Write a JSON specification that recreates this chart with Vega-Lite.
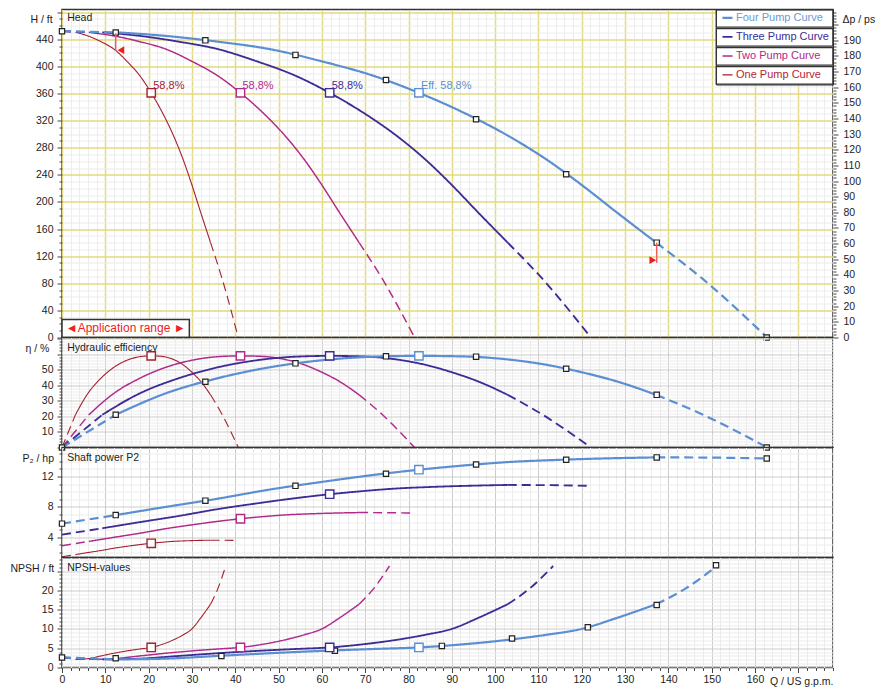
{
"$schema": "https://vega.github.io/schema/vega-lite/v6.json",
"background": "white",
"padding": {"left": 9, "top": 5.5, "right": 0, "bottom": 2},
"spacing": 0,
"bounds": "flush",
"config": {
  "view": {"stroke": "#333333", "strokeWidth": 1.5},
  "font": "Liberation Sans",
  "axis": {"labelFont": "Liberation Sans", "titleFont": "Liberation Sans", "labelFontSize": 10.5, "titleFontSize": 10.5, "titleFontWeight": "normal", "labelColor": "#222222", "titleColor": "#222222", "tickColor": "#444444", "labelFlush": false, "labelOverlap": false, "domain": false},
  "text": {"font": "Liberation Sans"}
},
"datasets": {
"H": [
{"p":"One","s":"a","Q":0,"v":452},{"p":"One","s":"a","Q":3.1,"v":450.3},
{"p":"One","s":"b","Q":3.1,"v":450.3},{"p":"One","s":"b","Q":6,"v":445},{"p":"One","s":"b","Q":9,"v":436.5},{"p":"One","s":"b","Q":12,"v":425.5},{"p":"One","s":"b","Q":15,"v":407.5},{"p":"One","s":"b","Q":18,"v":386},{"p":"One","s":"b","Q":20.6,"v":361},{"p":"One","s":"b","Q":23,"v":334},{"p":"One","s":"b","Q":26,"v":294},{"p":"One","s":"b","Q":28,"v":262},{"p":"One","s":"b","Q":30,"v":225},{"p":"One","s":"b","Q":32,"v":185},{"p":"One","s":"b","Q":34.3,"v":140},
{"p":"One","s":"c","Q":34.3,"v":140},{"p":"One","s":"c","Q":37,"v":86},{"p":"One","s":"c","Q":40.7,"v":0},
{"p":"Two","s":"a","Q":0,"v":452},{"p":"Two","s":"a","Q":6.2,"v":450.3},
{"p":"Two","s":"b","Q":6.2,"v":450.3},{"p":"Two","s":"b","Q":12,"v":445},{"p":"Two","s":"b","Q":18,"v":436.5},{"p":"Two","s":"b","Q":24,"v":425.5},{"p":"Two","s":"b","Q":30,"v":407.5},{"p":"Two","s":"b","Q":36,"v":386},{"p":"Two","s":"b","Q":41.2,"v":361},{"p":"Two","s":"b","Q":46,"v":334},{"p":"Two","s":"b","Q":52,"v":294},{"p":"Two","s":"b","Q":56,"v":262},{"p":"Two","s":"b","Q":60,"v":225},{"p":"Two","s":"b","Q":64,"v":185},{"p":"Two","s":"b","Q":68.6,"v":140},
{"p":"Two","s":"c","Q":68.6,"v":140},{"p":"Two","s":"c","Q":74,"v":86},{"p":"Two","s":"c","Q":81.4,"v":0},
{"p":"Three","s":"a","Q":0,"v":452},{"p":"Three","s":"a","Q":9.3,"v":450.3},
{"p":"Three","s":"b","Q":9.3,"v":450.3},{"p":"Three","s":"b","Q":18,"v":445},{"p":"Three","s":"b","Q":27,"v":436.5},{"p":"Three","s":"b","Q":36,"v":425.5},{"p":"Three","s":"b","Q":45,"v":407.5},{"p":"Three","s":"b","Q":54,"v":386},{"p":"Three","s":"b","Q":61.8,"v":361},{"p":"Three","s":"b","Q":69,"v":334},{"p":"Three","s":"b","Q":78,"v":294},{"p":"Three","s":"b","Q":84,"v":262},{"p":"Three","s":"b","Q":90,"v":225},{"p":"Three","s":"b","Q":96,"v":185},{"p":"Three","s":"b","Q":102.9,"v":140},
{"p":"Three","s":"c","Q":102.9,"v":140},{"p":"Three","s":"c","Q":111,"v":86},{"p":"Three","s":"c","Q":122.1,"v":0},
{"p":"Four","s":"a","Q":0,"v":452},{"p":"Four","s":"a","Q":12.4,"v":450.3},
{"p":"Four","s":"b","Q":12.4,"v":450.3},{"p":"Four","s":"b","Q":24,"v":445},{"p":"Four","s":"b","Q":36,"v":436.5},{"p":"Four","s":"b","Q":48,"v":425.5},{"p":"Four","s":"b","Q":60,"v":407.5},{"p":"Four","s":"b","Q":72,"v":386},{"p":"Four","s":"b","Q":82.4,"v":361},{"p":"Four","s":"b","Q":92,"v":334},{"p":"Four","s":"b","Q":104,"v":294},{"p":"Four","s":"b","Q":112,"v":262},{"p":"Four","s":"b","Q":120,"v":225},{"p":"Four","s":"b","Q":128,"v":185},{"p":"Four","s":"b","Q":137.2,"v":140},
{"p":"Four","s":"c","Q":137.2,"v":140},{"p":"Four","s":"c","Q":148,"v":86},{"p":"Four","s":"c","Q":162.8,"v":0}
],
"E": [
{"p":"One","s":"a","Q":0,"v":0},{"p":"One","s":"a","Q":3.1,"v":21},
{"p":"One","s":"b","Q":3.1,"v":21},{"p":"One","s":"b","Q":6,"v":34.8},{"p":"One","s":"b","Q":9,"v":44.5},{"p":"One","s":"b","Q":12,"v":51.5},{"p":"One","s":"b","Q":15,"v":56},{"p":"One","s":"b","Q":18,"v":58.3},{"p":"One","s":"b","Q":20.6,"v":58.8},{"p":"One","s":"b","Q":23,"v":58.5},{"p":"One","s":"b","Q":26,"v":56.2},{"p":"One","s":"b","Q":28,"v":53},{"p":"One","s":"b","Q":30,"v":48.3},{"p":"One","s":"b","Q":32,"v":42.5},{"p":"One","s":"b","Q":34.3,"v":33.8},
{"p":"One","s":"c","Q":34.3,"v":33.8},{"p":"One","s":"c","Q":37,"v":21},{"p":"One","s":"c","Q":40.7,"v":0},
{"p":"Two","s":"a","Q":0,"v":0},{"p":"Two","s":"a","Q":6.2,"v":21},
{"p":"Two","s":"b","Q":6.2,"v":21},{"p":"Two","s":"b","Q":12,"v":34.8},{"p":"Two","s":"b","Q":18,"v":44.5},{"p":"Two","s":"b","Q":24,"v":51.5},{"p":"Two","s":"b","Q":30,"v":56},{"p":"Two","s":"b","Q":36,"v":58.3},{"p":"Two","s":"b","Q":41.2,"v":58.8},{"p":"Two","s":"b","Q":46,"v":58.5},{"p":"Two","s":"b","Q":52,"v":56.2},{"p":"Two","s":"b","Q":56,"v":53},{"p":"Two","s":"b","Q":60,"v":48.3},{"p":"Two","s":"b","Q":64,"v":42.5},{"p":"Two","s":"b","Q":68.6,"v":33.8},
{"p":"Two","s":"c","Q":68.6,"v":33.8},{"p":"Two","s":"c","Q":74,"v":21},{"p":"Two","s":"c","Q":81.4,"v":0},
{"p":"Three","s":"a","Q":0,"v":0},{"p":"Three","s":"a","Q":9.3,"v":21},
{"p":"Three","s":"b","Q":9.3,"v":21},{"p":"Three","s":"b","Q":18,"v":34.8},{"p":"Three","s":"b","Q":27,"v":44.5},{"p":"Three","s":"b","Q":36,"v":51.5},{"p":"Three","s":"b","Q":45,"v":56},{"p":"Three","s":"b","Q":54,"v":58.3},{"p":"Three","s":"b","Q":61.8,"v":58.8},{"p":"Three","s":"b","Q":69,"v":58.5},{"p":"Three","s":"b","Q":78,"v":56.2},{"p":"Three","s":"b","Q":84,"v":53},{"p":"Three","s":"b","Q":90,"v":48.3},{"p":"Three","s":"b","Q":96,"v":42.5},{"p":"Three","s":"b","Q":102.9,"v":33.8},
{"p":"Three","s":"c","Q":102.9,"v":33.8},{"p":"Three","s":"c","Q":111,"v":21},{"p":"Three","s":"c","Q":122.1,"v":0},
{"p":"Four","s":"a","Q":0,"v":0},{"p":"Four","s":"a","Q":12.4,"v":21},
{"p":"Four","s":"b","Q":12.4,"v":21},{"p":"Four","s":"b","Q":24,"v":34.8},{"p":"Four","s":"b","Q":36,"v":44.5},{"p":"Four","s":"b","Q":48,"v":51.5},{"p":"Four","s":"b","Q":60,"v":56},{"p":"Four","s":"b","Q":72,"v":58.3},{"p":"Four","s":"b","Q":82.4,"v":58.8},{"p":"Four","s":"b","Q":92,"v":58.5},{"p":"Four","s":"b","Q":104,"v":56.2},{"p":"Four","s":"b","Q":112,"v":53},{"p":"Four","s":"b","Q":120,"v":48.3},{"p":"Four","s":"b","Q":128,"v":42.5},{"p":"Four","s":"b","Q":137.2,"v":33.8},
{"p":"Four","s":"c","Q":137.2,"v":33.8},{"p":"Four","s":"c","Q":148,"v":21},{"p":"Four","s":"c","Q":162.8,"v":0}
],
"P": [
{"p":"One","s":"a","Q":0,"v":1.45},{"p":"One","s":"a","Q":3.1,"v":1.73},
{"p":"One","s":"b","Q":3.1,"v":1.73},{"p":"One","s":"b","Q":6,"v":2.0},{"p":"One","s":"b","Q":9,"v":2.27},{"p":"One","s":"b","Q":12,"v":2.57},{"p":"One","s":"b","Q":15,"v":2.82},{"p":"One","s":"b","Q":18,"v":3.05},{"p":"One","s":"b","Q":20.6,"v":3.22},{"p":"One","s":"b","Q":23,"v":3.35},{"p":"One","s":"b","Q":26,"v":3.48},{"p":"One","s":"b","Q":28,"v":3.53},{"p":"One","s":"b","Q":30,"v":3.57},{"p":"One","s":"b","Q":32,"v":3.6},{"p":"One","s":"b","Q":34.3,"v":3.625},
{"p":"One","s":"c","Q":34.3,"v":3.625},{"p":"One","s":"c","Q":37,"v":3.62},{"p":"One","s":"c","Q":40.7,"v":3.59},
{"p":"Two","s":"a","Q":0,"v":2.9},{"p":"Two","s":"a","Q":6.2,"v":3.46},
{"p":"Two","s":"b","Q":6.2,"v":3.46},{"p":"Two","s":"b","Q":12,"v":4.0},{"p":"Two","s":"b","Q":18,"v":4.54},{"p":"Two","s":"b","Q":24,"v":5.14},{"p":"Two","s":"b","Q":30,"v":5.64},{"p":"Two","s":"b","Q":36,"v":6.1},{"p":"Two","s":"b","Q":41.2,"v":6.44},{"p":"Two","s":"b","Q":46,"v":6.7},{"p":"Two","s":"b","Q":52,"v":6.96},{"p":"Two","s":"b","Q":56,"v":7.06},{"p":"Two","s":"b","Q":60,"v":7.14},{"p":"Two","s":"b","Q":64,"v":7.2},{"p":"Two","s":"b","Q":68.6,"v":7.25},
{"p":"Two","s":"c","Q":68.6,"v":7.25},{"p":"Two","s":"c","Q":74,"v":7.24},{"p":"Two","s":"c","Q":81.4,"v":7.18},
{"p":"Three","s":"a","Q":0,"v":4.35},{"p":"Three","s":"a","Q":9.3,"v":5.19},
{"p":"Three","s":"b","Q":9.3,"v":5.19},{"p":"Three","s":"b","Q":18,"v":6.0},{"p":"Three","s":"b","Q":27,"v":6.81},{"p":"Three","s":"b","Q":36,"v":7.71},{"p":"Three","s":"b","Q":45,"v":8.46},{"p":"Three","s":"b","Q":54,"v":9.15},{"p":"Three","s":"b","Q":61.8,"v":9.66},{"p":"Three","s":"b","Q":69,"v":10.05},{"p":"Three","s":"b","Q":78,"v":10.44},{"p":"Three","s":"b","Q":84,"v":10.59},{"p":"Three","s":"b","Q":90,"v":10.71},{"p":"Three","s":"b","Q":96,"v":10.8},{"p":"Three","s":"b","Q":102.9,"v":10.88},
{"p":"Three","s":"c","Q":102.9,"v":10.88},{"p":"Three","s":"c","Q":111,"v":10.86},{"p":"Three","s":"c","Q":122.1,"v":10.77},
{"p":"Four","s":"a","Q":0,"v":5.8},{"p":"Four","s":"a","Q":12.4,"v":6.92},
{"p":"Four","s":"b","Q":12.4,"v":6.92},{"p":"Four","s":"b","Q":24,"v":8.0},{"p":"Four","s":"b","Q":36,"v":9.08},{"p":"Four","s":"b","Q":48,"v":10.28},{"p":"Four","s":"b","Q":60,"v":11.28},{"p":"Four","s":"b","Q":72,"v":12.2},{"p":"Four","s":"b","Q":82.4,"v":12.88},{"p":"Four","s":"b","Q":92,"v":13.4},{"p":"Four","s":"b","Q":104,"v":13.92},{"p":"Four","s":"b","Q":112,"v":14.12},{"p":"Four","s":"b","Q":120,"v":14.28},{"p":"Four","s":"b","Q":128,"v":14.4},{"p":"Four","s":"b","Q":137.2,"v":14.5},
{"p":"Four","s":"c","Q":137.2,"v":14.5},{"p":"Four","s":"c","Q":148,"v":14.48},{"p":"Four","s":"c","Q":162.8,"v":14.36}
],
"N": [
{"p":"One","s":"a","Q":0,"v":2.6},{"p":"One","s":"a","Q":3.1,"v":2.1},
{"p":"One","s":"b","Q":3.1,"v":2.1},{"p":"One","s":"b","Q":6,"v":2.3},{"p":"One","s":"b","Q":9,"v":3.0},{"p":"One","s":"b","Q":12,"v":3.7},{"p":"One","s":"b","Q":15,"v":4.3},{"p":"One","s":"b","Q":18,"v":4.8},{"p":"One","s":"b","Q":20.6,"v":5.2},{"p":"One","s":"b","Q":23,"v":5.95},{"p":"One","s":"b","Q":26,"v":7.3},{"p":"One","s":"b","Q":28,"v":8.5},{"p":"One","s":"b","Q":30,"v":10},{"p":"One","s":"b","Q":32,"v":12.8},{"p":"One","s":"b","Q":34.3,"v":16.4},
{"p":"One","s":"c","Q":34.3,"v":16.4},{"p":"One","s":"c","Q":36,"v":20.5},{"p":"One","s":"c","Q":37.8,"v":26.3},
{"p":"Two","s":"a","Q":0,"v":2.6},{"p":"Two","s":"a","Q":6.2,"v":2.1},
{"p":"Two","s":"b","Q":6.2,"v":2.1},{"p":"Two","s":"b","Q":12,"v":2.3},{"p":"Two","s":"b","Q":18,"v":3.0},{"p":"Two","s":"b","Q":24,"v":3.7},{"p":"Two","s":"b","Q":30,"v":4.3},{"p":"Two","s":"b","Q":36,"v":4.8},{"p":"Two","s":"b","Q":41.2,"v":5.2},{"p":"Two","s":"b","Q":46,"v":5.95},{"p":"Two","s":"b","Q":52,"v":7.3},{"p":"Two","s":"b","Q":56,"v":8.5},{"p":"Two","s":"b","Q":60,"v":10},{"p":"Two","s":"b","Q":64,"v":12.8},{"p":"Two","s":"b","Q":68.6,"v":16.4},
{"p":"Two","s":"c","Q":68.6,"v":16.4},{"p":"Two","s":"c","Q":72,"v":20.5},{"p":"Two","s":"c","Q":75.6,"v":26.3},
{"p":"Three","s":"a","Q":0,"v":2.6},{"p":"Three","s":"a","Q":9.3,"v":2.1},
{"p":"Three","s":"b","Q":9.3,"v":2.1},{"p":"Three","s":"b","Q":18,"v":2.3},{"p":"Three","s":"b","Q":27,"v":3.0},{"p":"Three","s":"b","Q":36,"v":3.7},{"p":"Three","s":"b","Q":45,"v":4.3},{"p":"Three","s":"b","Q":54,"v":4.8},{"p":"Three","s":"b","Q":61.8,"v":5.2},{"p":"Three","s":"b","Q":69,"v":5.95},{"p":"Three","s":"b","Q":78,"v":7.3},{"p":"Three","s":"b","Q":84,"v":8.5},{"p":"Three","s":"b","Q":90,"v":10},{"p":"Three","s":"b","Q":96,"v":12.8},{"p":"Three","s":"b","Q":102.9,"v":16.4},
{"p":"Three","s":"c","Q":102.9,"v":16.4},{"p":"Three","s":"c","Q":108,"v":20.5},{"p":"Three","s":"c","Q":113.4,"v":26.3},
{"p":"Four","s":"a","Q":0,"v":2.6},{"p":"Four","s":"a","Q":12.4,"v":2.1},
{"p":"Four","s":"b","Q":12.4,"v":2.1},{"p":"Four","s":"b","Q":24,"v":2.3},{"p":"Four","s":"b","Q":36,"v":3.0},{"p":"Four","s":"b","Q":48,"v":3.7},{"p":"Four","s":"b","Q":60,"v":4.3},{"p":"Four","s":"b","Q":72,"v":4.8},{"p":"Four","s":"b","Q":82.4,"v":5.2},{"p":"Four","s":"b","Q":92,"v":5.95},{"p":"Four","s":"b","Q":104,"v":7.3},{"p":"Four","s":"b","Q":112,"v":8.5},{"p":"Four","s":"b","Q":120,"v":10},{"p":"Four","s":"b","Q":128,"v":12.8},{"p":"Four","s":"b","Q":137.2,"v":16.4},
{"p":"Four","s":"c","Q":137.2,"v":16.4},{"p":"Four","s":"c","Q":144,"v":20.5},{"p":"Four","s":"c","Q":151.2,"v":26.3}
],
"pts": [
{"k":"H","Q":0,"v":452},{"k":"H","Q":12.4,"v":450},{"k":"H","Q":33.1,"v":438.5},{"k":"H","Q":53.9,"v":417},{"k":"H","Q":74.8,"v":380},{"k":"H","Q":95.6,"v":322},{"k":"H","Q":116.4,"v":241},{"k":"H","Q":137.3,"v":140},{"k":"H","Q":162.7,"v":0},
{"k":"E","Q":0,"v":0},{"k":"E","Q":12.4,"v":21},{"k":"E","Q":33.1,"v":42.2},{"k":"E","Q":53.9,"v":54},{"k":"E","Q":74.8,"v":58.5},{"k":"E","Q":95.6,"v":58.3},{"k":"E","Q":116.4,"v":50.5},{"k":"E","Q":137.3,"v":33.8},{"k":"E","Q":162.7,"v":0},
{"k":"P","Q":0,"v":5.8},{"k":"P","Q":12.4,"v":6.92},{"k":"P","Q":33.1,"v":8.82},{"k":"P","Q":53.9,"v":10.76},{"k":"P","Q":74.8,"v":12.36},{"k":"P","Q":95.6,"v":13.56},{"k":"P","Q":116.4,"v":14.2},{"k":"P","Q":137.3,"v":14.5},{"k":"P","Q":162.7,"v":14.36},
{"k":"N","Q":0,"v":2.6},{"k":"N","Q":12.4,"v":2.4},{"k":"N","Q":36.8,"v":3.0},{"k":"N","Q":63,"v":4.35},{"k":"N","Q":87.7,"v":5.6},{"k":"N","Q":103.9,"v":7.5},{"k":"N","Q":121.4,"v":10.4},{"k":"N","Q":137.3,"v":16.2},{"k":"N","Q":151,"v":26.5}
],
"bep": [
{"k":"H","p":"One","Q":20.6,"v":361,"t":"58,8%"},{"k":"H","p":"Two","Q":41.2,"v":361,"t":"58,8%"},{"k":"H","p":"Three","Q":61.8,"v":361,"t":"58,8%"},{"k":"H","p":"Four","Q":82.4,"v":361,"t":"Eff.  58,8%"},
{"k":"E","p":"One","Q":20.6,"v":58.8},{"k":"E","p":"Two","Q":41.2,"v":58.8},{"k":"E","p":"Three","Q":61.8,"v":58.8},{"k":"E","p":"Four","Q":82.4,"v":58.8},
{"k":"P","p":"One","Q":20.6,"v":3.22},{"k":"P","p":"Two","Q":41.2,"v":6.44},{"k":"P","p":"Three","Q":61.8,"v":9.66},{"k":"P","p":"Four","Q":82.4,"v":12.88},
{"k":"N","p":"One","Q":20.6,"v":5.2},{"k":"N","p":"Two","Q":41.2,"v":5.2},{"k":"N","p":"Three","Q":61.8,"v":5.2},{"k":"N","p":"Four","Q":82.4,"v":5.2}
],
"app": [
{"t":"r","Q":12.4,"v":449,"v2":423},{"t":"r","Q":137.3,"v":140,"v2":110},
{"t":"L","Q":13.6,"v":424},{"t":"R","Q":136.4,"v":114}
]
},
"vconcat": [
{
 "width": 771, "height": 328,
 "resolve": {"scale": {"y": "independent"}},
 "layer": [
  {
   "layer": [
    {
     "data": {"name": "H"},
     "mark": {"type": "line", "interpolate": "monotone"},
     "encoding": {
      "x": {"field": "Q", "type": "quantitative", "scale": {"domain": [0, 178], "nice": false, "zero": false},
            "axis": {"title": null, "labels": false, "ticks": false, "tickCount": 89, "grid": true,
                     "gridColor": {"condition": {"test": "datum.value % 10 === 0", "value": "#e3da80"}, "value": "#ececec"},
                     "gridWidth": {"condition": {"test": "datum.value % 10 === 0", "value": 1.5}, "value": 1}}},
      "y": {"field": "v", "type": "quantitative", "scale": {"domain": [0, 484], "nice": false, "zero": false},
            "axis": {"title": null,
                     "tickCount": 48, "labelPadding": 4,
                     "labelExpr": "datum.value % 40 === 0 && datum.value < 480 ? datum.label : ''",
                     "tickSize": {"condition": {"test": "datum.value % 40 === 0", "value": 5}, "value": 3},
                     "grid": true,
                     "gridColor": {"condition": {"test": "datum.value % 40 === 0", "value": "#e3da80"}, "value": "#ececec"},
                     "gridWidth": {"condition": {"test": "datum.value % 40 === 0", "value": 1.5}, "value": 1}}},
      "color": {"field": "p", "type": "nominal",
                "scale": {"domain": ["Four", "Three", "Two", "One"], "range": ["#5b8fd1", "#3d2b96", "#b02a8a", "#a3202e"]},
                "legend": {"title": null, "orient": "top-right", "offset": 0, "fillColor": "white", "strokeColor": "#333333",
                           "padding": 0, "symbolType": "stroke", "symbolStrokeWidth": 1.5, "symbolSize": 100, "symbolOffset": 5,
                           "labelFont": "Liberation Sans", "labelFontSize": 11, "labelOffset": 2, "rowPadding": 0, "clipHeight": 16.8,
                           "labelExpr": "datum.label + ' Pump Curve'",
                           "encoding": {
                             "entries": {"width": {"value": 116}, "height": {"value": 16.8}, "stroke": {"value": "#333333"}, "strokeWidth": {"value": 1.3}},
                             "labels": {"fill": {"condition": [
                               {"test": "datum.value === 'Four'", "value": "#6b9bd8"},
                               {"test": "datum.value === 'Three'", "value": "#3d2b96"},
                               {"test": "datum.value === 'Two'", "value": "#b02a8a"}], "value": "#b3262f"}}}}},
      "strokeDash": {"field": "s", "type": "nominal", "scale": {"domain": ["a", "b", "c"], "range": [[9, 5], [1, 0], [9, 5]]}, "legend": null},
      "strokeWidth": {"field": "p", "type": "ordinal", "scale": {"domain": ["Four", "Three", "Two", "One"], "range": [2.2, 1.1, 1.1, 1.1]}, "legend": null}
     }
    },
    {
     "data": {"values": [{}]},
     "mark": {"type": "text", "text": "H / ft", "color": "#222222", "fontSize": 10.5, "align": "right", "baseline": "middle"},
     "encoding": {"x": {"datum": -2.15, "type": "quantitative"}, "y": {"datum": 469, "type": "quantitative"}}
    },
    {
     "data": {"values": [{}]},
     "mark": {"type": "rect", "fill": "white", "stroke": "#333333", "strokeWidth": 1.5},
     "encoding": {"x": {"datum": 0, "type": "quantitative"}, "x2": {"datum": 29.4}, "y": {"datum": 0, "type": "quantitative"}, "y2": {"datum": 26.6}}
    },
    {
     "data": {"values": [{}]},
     "mark": {"type": "text", "text": "◄Application range ►", "color": "#ee2222", "fontSize": 12, "align": "center", "baseline": "middle"},
     "encoding": {"x": {"datum": 14.7, "type": "quantitative"}, "y": {"datum": 13.3, "type": "quantitative"}}
    },
    {
     "data": {"values": [{}]},
     "mark": {"type": "text", "text": "Head", "color": "#222222", "fontSize": 10.5, "align": "left", "baseline": "middle"},
     "encoding": {"x": {"datum": 1.2, "type": "quantitative"}, "y": {"datum": 471, "type": "quantitative"}}
    },
    {
     "data": {"name": "pts"},
     "transform": [{"filter": "datum.k === 'H'"}],
     "mark": {"type": "point", "shape": "square", "filled": true, "fill": "white", "stroke": "#222222", "strokeWidth": 1.2, "size": 28, "opacity": 1},
     "encoding": {"x": {"field": "Q", "type": "quantitative"}, "y": {"field": "v", "type": "quantitative"}}
    },
    {
     "data": {"name": "bep"},
     "transform": [{"filter": "datum.k === 'H'"}],
     "mark": {"type": "point", "shape": "square", "filled": true, "fill": "white", "strokeWidth": 1.4, "size": 70, "opacity": 1},
     "encoding": {"x": {"field": "Q", "type": "quantitative"}, "y": {"field": "v", "type": "quantitative"},
                  "stroke": {"field": "p", "type": "nominal", "scale": {"domain": ["Four", "Three", "Two", "One"], "range": ["#5b8fd1", "#3d2b96", "#b02a8a", "#a3202e"]}, "legend": null}}
    },
    {
     "data": {"name": "bep"},
     "transform": [{"filter": "datum.k === 'H'"}],
     "mark": {"type": "text", "align": "left", "baseline": "alphabetic", "dx": 2, "dy": -4, "fontSize": 11},
     "encoding": {"x": {"field": "Q", "type": "quantitative"}, "y": {"field": "v", "type": "quantitative"}, "text": {"field": "t"},
                  "color": {"field": "p", "type": "nominal", "legend": null}}
    },
    {
     "data": {"name": "app"},
     "transform": [{"filter": "datum.t === 'r'"}],
     "mark": {"type": "rule", "color": "#f06060", "strokeWidth": 1.5},
     "encoding": {"x": {"field": "Q", "type": "quantitative"}, "y": {"field": "v", "type": "quantitative"}, "y2": {"field": "v2"}}
    },
    {
     "data": {"name": "app"},
     "transform": [{"filter": "datum.t !== 'r'"}],
     "mark": {"type": "point", "filled": true, "color": "#ee1c1c", "size": 60, "opacity": 1},
     "encoding": {"x": {"field": "Q", "type": "quantitative"}, "y": {"field": "v", "type": "quantitative"},
                  "shape": {"field": "t", "type": "nominal", "scale": {"domain": ["L", "R"], "range": ["triangle-left", "triangle-right"]}, "legend": null}}
    }
   ]
  },
  {
   "data": {"values": [{"psi": 0}]},
   "mark": {"type": "point", "opacity": 0},
   "encoding": {
    "y": {"field": "psi", "type": "quantitative", "scale": {"domain": [0, 209.6], "nice": false, "zero": false},
          "axis": {"orient": "right", "title": "Δp / psi", "titleAngle": 0, "titleAlign": "left", "titleBaseline": "middle", "titleX": 9, "titleY": 10,
                   "tickCount": 105, "labelPadding": 5, "grid": false,
                   "labelExpr": "datum.value % 10 === 0 && datum.value < 200 ? datum.label : ''",
                   "tickSize": {"condition": {"test": "datum.value % 10 === 0", "value": 5}, "value": 3}}}
   }
  }
 ]
},
{
 "width": 771, "height": 110,
 "layer": [
  {
   "data": {"name": "E"},
   "mark": {"type": "line", "interpolate": "monotone"},
   "encoding": {
    "x": {"field": "Q", "type": "quantitative", "scale": {"domain": [0, 178], "nice": false, "zero": false},
          "axis": {"title": null, "labels": false, "ticks": false, "tickCount": 89, "grid": true,
                   "gridColor": {"condition": {"test": "datum.value % 10 === 0", "value": "#cccccc"}, "value": "#ececec"}}},
    "y": {"field": "v", "type": "quantitative", "scale": {"domain": [0, 70.6], "nice": false, "zero": false},
          "axis": {"title": "η / %", "titleAngle": 0, "titleAlign": "left", "titleBaseline": "middle", "titleX": -37, "titleY": 11,
                   "tickCount": 35, "labelPadding": 4,
                   "labelExpr": "datum.value % 10 === 0 && datum.value > 0 && datum.value < 60 ? datum.label : ''",
                   "tickSize": {"condition": {"test": "datum.value % 10 === 0", "value": 5}, "value": 3},
                   "grid": true,
                   "gridColor": {"condition": {"test": "datum.value % 10 === 0", "value": "#cccccc"}, "value": "#ececec"}}},
    "color": {"field": "p", "type": "nominal", "scale": {"domain": ["Four", "Three", "Two", "One"], "range": ["#5b8fd1", "#3d2b96", "#b02a8a", "#a3202e"]}, "legend": null},
    "strokeDash": {"field": "s", "type": "nominal", "scale": {"domain": ["a", "b", "c"], "range": [[9, 5], [1, 0], [9, 5]]}, "legend": null},
    "strokeWidth": {"field": "p", "type": "ordinal", "scale": {"domain": ["Four", "Three", "Two", "One"], "range": [2.2, 1.1, 1.1, 1.1]}, "legend": null}
   }
  },
  {
   "data": {"values": [{}]},
   "mark": {"type": "text", "text": "Hydraulic efficiency", "color": "#222222", "fontSize": 10.5, "align": "left", "baseline": "middle"},
   "encoding": {"x": {"datum": 1.2, "type": "quantitative"}, "y": {"datum": 63.6, "type": "quantitative"}}
  },
  {
   "data": {"name": "pts"},
   "transform": [{"filter": "datum.k === 'E'"}],
   "mark": {"type": "point", "shape": "square", "filled": true, "fill": "white", "stroke": "#222222", "strokeWidth": 1.2, "size": 28, "opacity": 1},
   "encoding": {"x": {"field": "Q", "type": "quantitative"}, "y": {"field": "v", "type": "quantitative"}}
  },
  {
   "data": {"name": "bep"},
   "transform": [{"filter": "datum.k === 'E'"}],
   "mark": {"type": "point", "shape": "square", "filled": true, "fill": "white", "strokeWidth": 1.4, "size": 70, "opacity": 1},
   "encoding": {"x": {"field": "Q", "type": "quantitative"}, "y": {"field": "v", "type": "quantitative"},
                "stroke": {"field": "p", "type": "nominal", "scale": {"domain": ["Four", "Three", "Two", "One"], "range": ["#5b8fd1", "#3d2b96", "#b02a8a", "#a3202e"]}, "legend": null}}
  }
 ]
},
{
 "width": 771, "height": 110,
 "layer": [
  {
   "data": {"name": "P"},
   "mark": {"type": "line", "interpolate": "monotone"},
   "encoding": {
    "x": {"field": "Q", "type": "quantitative", "scale": {"domain": [0, 178], "nice": false, "zero": false},
          "axis": {"title": null, "labels": false, "ticks": false, "tickCount": 89, "grid": true,
                   "gridColor": {"condition": {"test": "datum.value % 10 === 0", "value": "#cccccc"}, "value": "#ececec"}}},
    "y": {"field": "v", "type": "quantitative", "scale": {"domain": [1.35, 15.8], "nice": false, "zero": false},
          "axis": {"title": "P₂ / hp", "titleAngle": 0, "titleAlign": "left", "titleBaseline": "middle", "titleX": -40, "titleY": 11,
                   "tickCount": 14, "labelPadding": 4,
                   "labelExpr": "datum.value % 4 === 0 && datum.value < 16 ? datum.label : ''",
                   "tickSize": {"condition": {"test": "datum.value % 4 === 0", "value": 5}, "value": 3},
                   "grid": true,
                   "gridColor": {"condition": {"test": "datum.value % 4 === 0", "value": "#cccccc"}, "value": "#ececec"}}},
    "color": {"field": "p", "type": "nominal", "scale": {"domain": ["Four", "Three", "Two", "One"], "range": ["#5b8fd1", "#3d2b96", "#b02a8a", "#a3202e"]}, "legend": null},
    "strokeDash": {"field": "s", "type": "nominal", "scale": {"domain": ["a", "b", "c"], "range": [[9, 5], [1, 0], [9, 5]]}, "legend": null},
    "strokeWidth": {"field": "p", "type": "ordinal", "scale": {"domain": ["Four", "Three", "Two", "One"], "range": [2.2, 1.1, 1.1, 1.1]}, "legend": null}
   }
  },
  {
   "data": {"values": [{}]},
   "mark": {"type": "text", "text": "Shaft power P2", "color": "#222222", "fontSize": 10.5, "align": "left", "baseline": "middle"},
   "encoding": {"x": {"datum": 1.2, "type": "quantitative"}, "y": {"datum": 14.36, "type": "quantitative"}}
  },
  {
   "data": {"name": "pts"},
   "transform": [{"filter": "datum.k === 'P'"}],
   "mark": {"type": "point", "shape": "square", "filled": true, "fill": "white", "stroke": "#222222", "strokeWidth": 1.2, "size": 28, "opacity": 1},
   "encoding": {"x": {"field": "Q", "type": "quantitative"}, "y": {"field": "v", "type": "quantitative"}}
  },
  {
   "data": {"name": "bep"},
   "transform": [{"filter": "datum.k === 'P'"}],
   "mark": {"type": "point", "shape": "square", "filled": true, "fill": "white", "strokeWidth": 1.4, "size": 70, "opacity": 1},
   "encoding": {"x": {"field": "Q", "type": "quantitative"}, "y": {"field": "v", "type": "quantitative"},
                "stroke": {"field": "p", "type": "nominal", "scale": {"domain": ["Four", "Three", "Two", "One"], "range": ["#5b8fd1", "#3d2b96", "#b02a8a", "#a3202e"]}, "legend": null}}
  }
 ]
},
{
 "width": 771, "height": 110,
 "layer": [
  {
   "data": {"name": "N"},
   "mark": {"type": "line", "interpolate": "monotone"},
   "encoding": {
    "x": {"field": "Q", "type": "quantitative", "scale": {"domain": [0, 178], "nice": false, "zero": false},
          "axis": {"title": "Q / US g.p.m.", "titleAngle": 0, "titleAlign": "right", "titleAnchor": "end", "titleBaseline": "middle", "titleX": 771, "titleY": 14,
                   "tickCount": 89, "labelPadding": 2,
                   "labelExpr": "datum.value % 10 === 0 && datum.value <= 160 ? datum.label : ''",
                   "tickSize": {"condition": {"test": "datum.value % 10 === 0", "value": 5}, "value": 3},
                   "grid": true,
                   "gridColor": {"condition": {"test": "datum.value % 10 === 0", "value": "#cccccc"}, "value": "#ececec"}}},
    "y": {"field": "v", "type": "quantitative", "scale": {"domain": [0, 28.5], "nice": false, "zero": false},
          "axis": {"title": "NPSH / ft", "titleAngle": 0, "titleAlign": "left", "titleBaseline": "middle", "titleX": -52, "titleY": 11,
                   "tickCount": 28, "labelPadding": 4,
                   "labelExpr": "datum.value % 5 === 0 && datum.value < 25 ? datum.label : ''",
                   "tickSize": {"condition": {"test": "datum.value % 5 === 0", "value": 5}, "value": 3},
                   "grid": true,
                   "gridColor": {"condition": {"test": "datum.value % 5 === 0", "value": "#cccccc"}, "value": "#ececec"}}},
    "color": {"field": "p", "type": "nominal", "scale": {"domain": ["Four", "Three", "Two", "One"], "range": ["#5b8fd1", "#3d2b96", "#b02a8a", "#a3202e"]}, "legend": null},
    "strokeDash": {"field": "s", "type": "nominal", "scale": {"domain": ["a", "b", "c"], "range": [[9, 5], [1, 0], [9, 5]]}, "legend": null},
    "strokeWidth": {"field": "p", "type": "ordinal", "scale": {"domain": ["Four", "Three", "Two", "One"], "range": [2.2, 1.1, 1.1, 1.1]}, "legend": null}
   }
  },
  {
   "data": {"values": [{}]},
   "mark": {"type": "text", "text": "NPSH-values", "color": "#222222", "fontSize": 10.5, "align": "left", "baseline": "middle"},
   "encoding": {"x": {"datum": 1.2, "type": "quantitative"}, "y": {"datum": 25.7, "type": "quantitative"}}
  },
  {
   "data": {"name": "pts"},
   "transform": [{"filter": "datum.k === 'N'"}],
   "mark": {"type": "point", "shape": "square", "filled": true, "fill": "white", "stroke": "#222222", "strokeWidth": 1.2, "size": 28, "opacity": 1},
   "encoding": {"x": {"field": "Q", "type": "quantitative"}, "y": {"field": "v", "type": "quantitative"}}
  },
  {
   "data": {"name": "bep"},
   "transform": [{"filter": "datum.k === 'N'"}],
   "mark": {"type": "point", "shape": "square", "filled": true, "fill": "white", "strokeWidth": 1.4, "size": 70, "opacity": 1},
   "encoding": {"x": {"field": "Q", "type": "quantitative"}, "y": {"field": "v", "type": "quantitative"},
                "stroke": {"field": "p", "type": "nominal", "scale": {"domain": ["Four", "Three", "Two", "One"], "range": ["#5b8fd1", "#3d2b96", "#b02a8a", "#a3202e"]}, "legend": null}}
  }
 ]
}
]
}
